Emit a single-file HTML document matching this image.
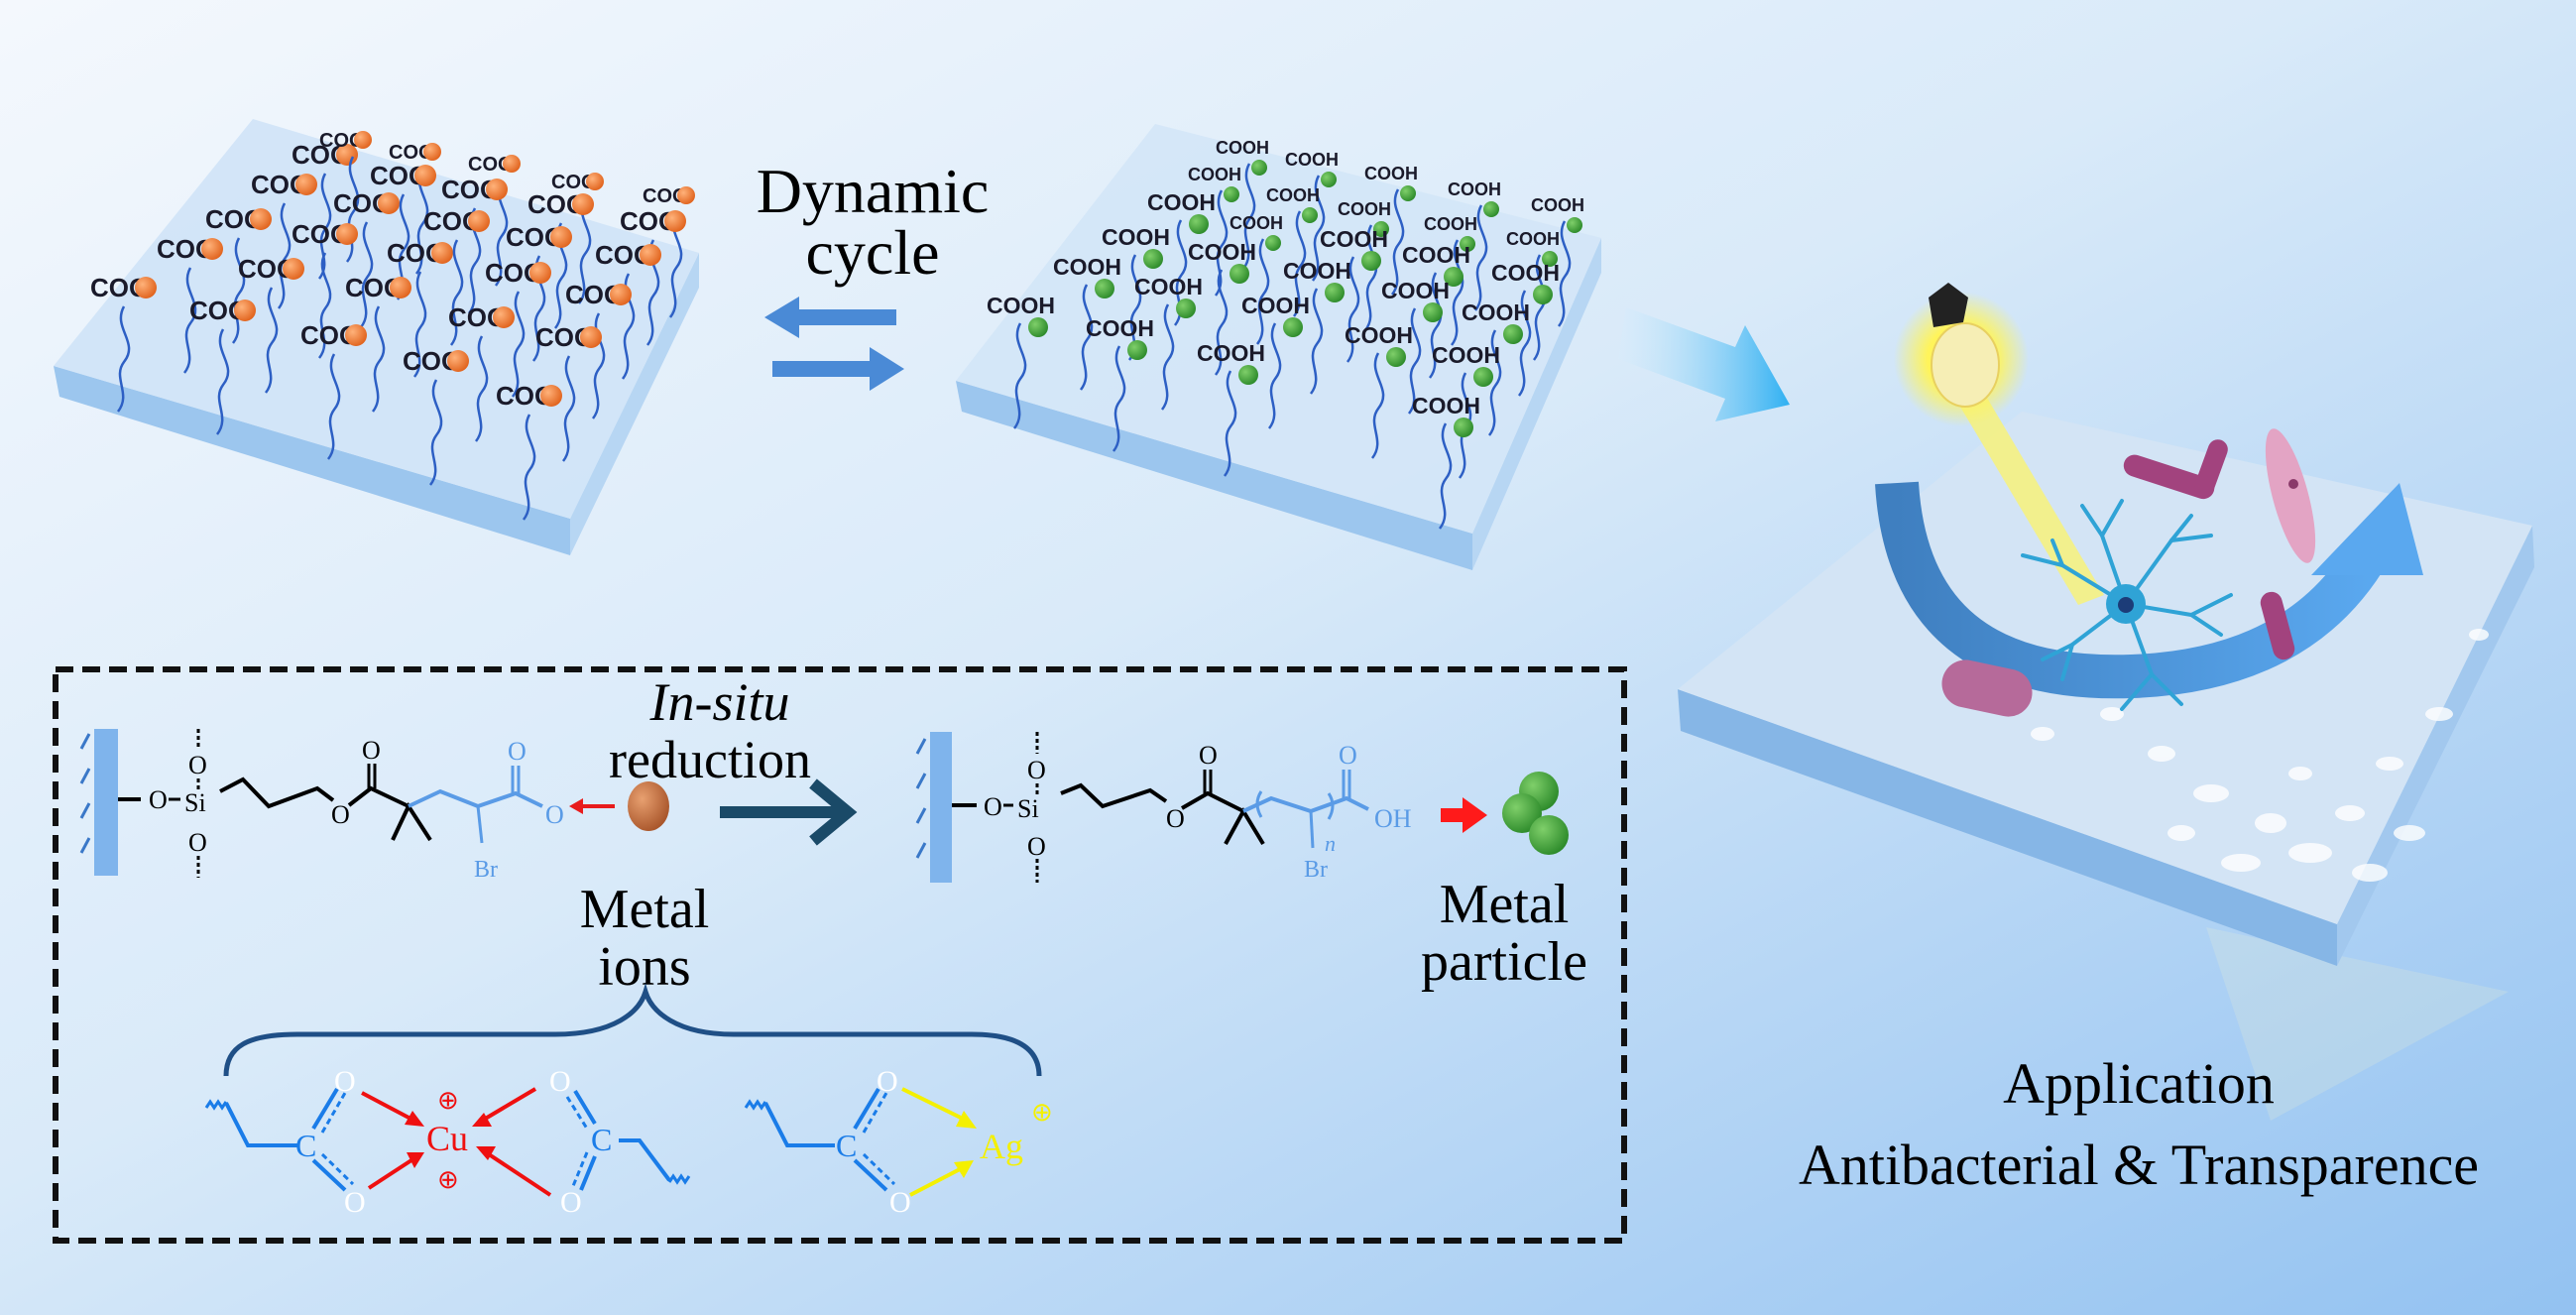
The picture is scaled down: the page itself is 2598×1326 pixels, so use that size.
<!DOCTYPE html>
<html><head><meta charset="utf-8"><style>
html,body{margin:0;padding:0;}
body{width:2598px;height:1326px;overflow:hidden;}
svg{display:block;}
.coo{font-family:"Liberation Sans",sans-serif;font-weight:bold;font-size:26px;fill:#1a1a2a;}
.cooh{font-family:"Liberation Sans",sans-serif;font-weight:bold;font-size:23px;fill:#1a1a2a;}
.t{font-family:"Liberation Serif",serif;}
</style></head><body>
<svg width="2598" height="1326" viewBox="0 0 2598 1326" xmlns="http://www.w3.org/2000/svg">
<defs>
<linearGradient id="bg" x1="0" y1="0" x2="1" y2="1">
<stop offset="0" stop-color="#f4f8fd"/><stop offset="0.45" stop-color="#d9eaf9"/><stop offset="1" stop-color="#93c2f1"/>
</linearGradient>
<linearGradient id="ga" x1="0" y1="0" x2="1" y2="0">
<stop offset="0" stop-color="#d8eefc" stop-opacity="0.2"/><stop offset="1" stop-color="#2fb0f2"/>
</linearGradient>
<linearGradient id="arc" x1="0" y1="0" x2="1" y2="0">
<stop offset="0" stop-color="#3f7fc0"/><stop offset="1" stop-color="#5aa8ef"/>
</linearGradient>
<radialGradient id="org" cx="0.35" cy="0.35" r="0.7"><stop offset="0" stop-color="#ffb27a"/><stop offset="1" stop-color="#e0621c"/></radialGradient>
<radialGradient id="grn" cx="0.35" cy="0.35" r="0.7"><stop offset="0" stop-color="#7fcf6a"/><stop offset="1" stop-color="#2c8a2a"/></radialGradient>
<radialGradient id="brn" cx="0.35" cy="0.35" r="0.7"><stop offset="0" stop-color="#e8a070"/><stop offset="1" stop-color="#a8552a"/></radialGradient>
<radialGradient id="glow" cx="0.5" cy="0.5" r="0.5"><stop offset="0.5" stop-color="#fff45a"/><stop offset="1" stop-color="#fff45a" stop-opacity="0"/></radialGradient>
<path id="ch" d="m 34 10 c -12 22 16 36 0 56 c -12 16 8 32 -6 50" fill="none" stroke="#2d5fc4" stroke-width="2.5"/>
<g id="a"><use href="#ch"/><text class="coo" x="0" y="0">COO</text><circle cx="56" cy="-9" r="11" fill="url(#org)"/></g>
<g id="b"><use href="#ch"/><text class="coo" x="0" y="0" style="font-size:20px">COO</text><circle cx="44" cy="-7" r="9" fill="url(#org)"/></g>
<g id="c"><use href="#ch"/><text class="cooh" x="0" y="0">COOH</text><circle cx="52" cy="14" r="10" fill="url(#grn)"/></g>
<g id="d"><use href="#ch"/><text class="cooh" x="0" y="0" style="font-size:18px">COOH</text><circle cx="44" cy="14" r="8" fill="url(#grn)"/></g>
</defs>
<rect width="2598" height="1326" fill="url(#bg)"/>

<!-- Slab 1 -->
<g>
<polygon points="54,369 575,523 575,560 60,400" fill="#9cc6ee"/>
<polygon points="575,523 705,255 705,290 575,560" fill="#b7d6f3"/>
<polygon points="54,369 255,120 705,255 575,523" fill="#cfe3f7" opacity="0.9"/>
</g>
<!-- Slab 2 -->
<g transform="translate(910,15)">
<polygon points="54,369 575,523 575,560 60,400" fill="#9cc6ee"/>
<polygon points="575,523 705,225 705,260 575,560" fill="#b7d6f3"/>
<polygon points="54,369 255,110 705,225 575,523" fill="#d3e5f7" opacity="0.9"/>
</g>

<!-- COO chains slab1 -->
<g>
<use href="#a" x="91" y="299"/><use href="#a" x="158" y="260"/><use href="#a" x="207" y="230"/>
<use href="#a" x="253" y="195"/><use href="#a" x="294" y="165"/>
<use href="#b" x="322" y="148"/><use href="#b" x="392" y="160"/><use href="#b" x="472" y="172"/>
<use href="#b" x="556" y="190"/><use href="#b" x="648" y="204"/>
<use href="#a" x="191" y="322"/><use href="#a" x="240" y="280"/><use href="#a" x="294" y="245"/>
<use href="#a" x="336" y="214"/><use href="#a" x="373" y="186"/><use href="#a" x="445" y="200"/>
<use href="#a" x="532" y="215"/><use href="#a" x="625" y="232"/>
<use href="#a" x="303" y="347"/><use href="#a" x="348" y="299"/><use href="#a" x="390" y="264"/>
<use href="#a" x="427" y="232"/><use href="#a" x="510" y="248"/><use href="#a" x="600" y="266"/>
<use href="#a" x="406" y="373"/><use href="#a" x="452" y="329"/><use href="#a" x="489" y="284"/>
<use href="#a" x="570" y="306"/><use href="#a" x="540" y="349"/><use href="#a" x="500" y="408"/>
</g>

<!-- COOH chains slab2 -->
<g transform="translate(904,17)">
<use href="#c" x="91" y="299"/><use href="#c" x="158" y="260"/><use href="#c" x="207" y="230"/>
<use href="#c" x="253" y="195"/><use href="#d" x="294" y="165"/>
<use href="#d" x="322" y="138"/><use href="#d" x="392" y="150"/><use href="#d" x="472" y="164"/>
<use href="#d" x="556" y="180"/><use href="#d" x="640" y="196"/>
<use href="#c" x="191" y="322"/><use href="#c" x="240" y="280"/><use href="#c" x="294" y="245"/>
<use href="#d" x="336" y="214"/><use href="#d" x="373" y="186"/><use href="#d" x="445" y="200"/>
<use href="#d" x="532" y="215"/><use href="#d" x="615" y="230"/>
<use href="#c" x="303" y="347"/><use href="#c" x="348" y="299"/><use href="#c" x="390" y="264"/>
<use href="#c" x="427" y="232"/><use href="#c" x="510" y="248"/><use href="#c" x="600" y="266"/>
<use href="#c" x="452" y="329"/><use href="#c" x="489" y="284"/><use href="#c" x="570" y="306"/>
<use href="#c" x="540" y="349"/><use href="#c" x="520" y="400"/>
</g>

<!-- Dynamic cycle -->
<text class="t" x="880" y="214" font-size="64" text-anchor="middle" fill="#000">Dynamic</text>
<text class="t" x="880" y="276" font-size="64" text-anchor="middle" fill="#000">cycle</text>
<polygon points="771,320 806,299 806,312 904,312 904,328 806,328 806,341" fill="#4a8ad6"/>
<polygon points="912,372 877,350 877,364 779,364 779,380 877,380 877,394" fill="#4a8ad6"/>

<!-- gradient arrow to right -->
<polygon points="1640,310 1750,350 1760,328 1805,408 1730,425 1740,402 1632,362" fill="url(#ga)"/>

<!-- Slab 3 -->
<polygon points="2225,935 2290,1130 2530,1000" fill="#eef2d8" opacity="0.22"/>
<polygon points="1692,695 2357,932 2357,974 1695,737" fill="#86b6e6"/>
<polygon points="2357,932 2554,530 2556,572 2357,974" fill="#a2c8ee"/>
<polygon points="1692,695 2039,415 2554,530 2357,932" fill="#d3e4f5"/>
<g fill="#ffffff" opacity="0.8">
<ellipse cx="2180" cy="760" rx="14" ry="8"/><ellipse cx="2230" cy="800" rx="18" ry="9"/><ellipse cx="2290" cy="830" rx="16" ry="10"/>
<ellipse cx="2330" cy="860" rx="22" ry="10"/><ellipse cx="2370" cy="820" rx="15" ry="8"/><ellipse cx="2410" cy="770" rx="14" ry="7"/>
<ellipse cx="2260" cy="870" rx="20" ry="9"/><ellipse cx="2390" cy="880" rx="18" ry="9"/><ellipse cx="2460" cy="720" rx="14" ry="7"/>
<ellipse cx="2130" cy="720" rx="12" ry="7"/><ellipse cx="2200" cy="840" rx="14" ry="8"/><ellipse cx="2320" cy="780" rx="12" ry="7"/>
<ellipse cx="2500" cy="640" rx="10" ry="6"/><ellipse cx="2060" cy="740" rx="12" ry="7"/><ellipse cx="2430" cy="840" rx="16" ry="8"/>
</g>

<!-- beam & bulb -->
<polygon points="1968,395 1995,386 2122,600 2096,610" fill="#f7f27a" opacity="0.85"/>
<circle cx="1978" cy="362" r="68" fill="url(#glow)"/>
<ellipse cx="1982" cy="368" rx="34" ry="42" fill="#f6eeb5" stroke="#e8d060" stroke-width="2"/>
<polygon points="1945,300 1965,285 1985,300 1980,325 1950,330" fill="#222"/>

<!-- arc arrow -->
<path d="M1913,487 Q1925,690 2150,682 Q2320,676 2390,555" fill="none" stroke="url(#arc)" stroke-width="44"/>
<polygon points="2420,487 2444,580 2331,580" fill="#5aa8ef"/>

<!-- neuron -->
<g stroke="#2fa3d6" stroke-width="4" fill="none" stroke-linecap="round">
<path d="M2144,609 L2080,570 L2040,560"/><path d="M2080,570 L2070,545"/>
<path d="M2144,609 L2120,540 L2100,510"/><path d="M2120,540 L2140,505"/>
<path d="M2144,609 L2190,545 L2210,520"/><path d="M2190,545 L2230,540"/>
<path d="M2144,609 L2210,620 L2250,600"/><path d="M2210,620 L2240,640"/>
<path d="M2144,609 L2170,680 L2200,710"/><path d="M2170,680 L2140,715"/>
<path d="M2144,609 L2090,650 L2060,665"/><path d="M2090,650 L2080,685"/>
</g>
<circle cx="2144" cy="609" r="20" fill="#2fa3d6"/>
<circle cx="2144" cy="610" r="8" fill="#1c3c78"/>

<!-- bacteria -->
<g fill="#a2437e">
<rect x="2140" y="470" width="95" height="22" rx="11" transform="rotate(18 2188 481)"/>
<rect x="2200" y="462" width="60" height="20" rx="10" transform="rotate(-70 2230 472)"/>
<rect x="2262" y="620" width="70" height="22" rx="11" transform="rotate(75 2297 631)"/>
<rect x="1958" y="670" width="92" height="48" rx="24" transform="rotate(12 2004 694)" fill="#b66a9a"/>
</g>
<ellipse cx="2310" cy="500" rx="18" ry="70" transform="rotate(-15 2310 500)" fill="#e3a4c4"/>
<circle cx="2313" cy="488" r="5" fill="#8a3a6a"/>

<text class="t" x="2157" y="1112" font-size="58" text-anchor="middle" fill="#000">Application</text>
<text class="t" x="2157" y="1194" font-size="58" text-anchor="middle" fill="#000">Antibacterial &amp; Transparence</text>

<!-- dashed box -->
<rect x="56" y="675" width="1582" height="576" fill="none" stroke="#111" stroke-width="6" stroke-dasharray="18,9"/>

<!-- molecule 1 -->
<g font-family="Liberation Serif,serif" font-size="26">
<rect x="95" y="735" width="24" height="148" fill="#7fb4ec"/>
<g stroke="#3a78c8" stroke-width="3">
<line x1="82" y1="755" x2="90" y2="740"/><line x1="82" y1="790" x2="90" y2="775"/><line x1="82" y1="825" x2="90" y2="810"/><line x1="82" y1="860" x2="90" y2="845"/>
</g>
<line x1="119" y1="806" x2="142" y2="806" stroke="#000" stroke-width="4"/>
<text x="150" y="815">O</text><line x1="170" y1="806" x2="182" y2="806" stroke="#000" stroke-width="3"/>
<text x="186" y="818">Si</text>
<line x1="200" y1="735" x2="200" y2="755" stroke="#000" stroke-width="3" stroke-dasharray="4,3"/>
<text x="190" y="780">O</text>
<line x1="200" y1="785" x2="200" y2="798" stroke="#000" stroke-width="3" stroke-dasharray="4,3"/>
<text x="190" y="858">O</text>
<line x1="200" y1="863" x2="200" y2="885" stroke="#000" stroke-width="3" stroke-dasharray="4,3"/>
<polyline points="222,798 245,786 271,813 320,795 336,807" fill="none" stroke="#000" stroke-width="4"/>
<text x="334" y="830">O</text>
<polyline points="352,812 374,795 412,813" fill="none" stroke="#000" stroke-width="4"/>
<line x1="372" y1="795" x2="372" y2="770" stroke="#000" stroke-width="3"/><line x1="378" y1="795" x2="378" y2="770" stroke="#000" stroke-width="3"/>
<text x="365" y="765">O</text>
<polyline points="396,847 412,813 434,847" fill="none" stroke="#000" stroke-width="4"/>
<polyline points="412,813 444,798 482,813 520,800 547,813" fill="none" stroke="#5a9be6" stroke-width="4"/>
<line x1="482" y1="813" x2="486" y2="850" stroke="#5a9be6" stroke-width="3"/>
<text x="478" y="884" fill="#5a9be6" font-size="24">Br</text>
<line x1="517" y1="800" x2="517" y2="772" stroke="#5a9be6" stroke-width="3"/><line x1="523" y1="800" x2="523" y2="772" stroke="#5a9be6" stroke-width="3"/>
<text x="512" y="766" fill="#5a9be6">O</text>
<text x="550" y="830" fill="#5a9be6">O</text>
<line x1="620" y1="813" x2="584" y2="813" stroke="#e81c1c" stroke-width="4"/><polygon points="574,813 588,805 588,821" fill="#e81c1c"/>
<ellipse cx="654" cy="813" rx="21" ry="25" fill="url(#brn)"/>
</g>
<text class="t" x="726" y="726" font-size="54" font-style="italic" text-anchor="middle">In-situ</text>
<text class="t" x="716" y="784" font-size="54" text-anchor="middle">reduction</text>
<line x1="726" y1="819" x2="850" y2="819" stroke="#1a4a68" stroke-width="12"/>
<polyline points="820,790 855,819 820,848" fill="none" stroke="#1a4a68" stroke-width="12"/>

<!-- molecule 2 -->
<g font-family="Liberation Serif,serif" font-size="26">
<rect x="938" y="738" width="22" height="152" fill="#7fb4ec"/>
<g stroke="#3a78c8" stroke-width="3">
<line x1="925" y1="760" x2="933" y2="745"/><line x1="925" y1="795" x2="933" y2="780"/><line x1="925" y1="830" x2="933" y2="815"/><line x1="925" y1="865" x2="933" y2="850"/>
</g>
<line x1="960" y1="812" x2="985" y2="812" stroke="#000" stroke-width="4"/>
<text x="992" y="822">O</text><line x1="1012" y1="812" x2="1022" y2="812" stroke="#000" stroke-width="3"/>
<text x="1026" y="824">Si</text>
<line x1="1046" y1="738" x2="1046" y2="760" stroke="#000" stroke-width="3" stroke-dasharray="4,3"/>
<text x="1036" y="785">O</text>
<line x1="1046" y1="790" x2="1046" y2="802" stroke="#000" stroke-width="3" stroke-dasharray="4,3"/>
<text x="1036" y="862">O</text>
<line x1="1046" y1="866" x2="1046" y2="890" stroke="#000" stroke-width="3" stroke-dasharray="4,3"/>
<polyline points="1070,800 1090,792 1112,813 1160,797 1176,808" fill="none" stroke="#000" stroke-width="4"/>
<text x="1176" y="834">O</text>
<polyline points="1192,815 1218,800 1254,818" fill="none" stroke="#000" stroke-width="4"/>
<line x1="1215" y1="800" x2="1215" y2="776" stroke="#000" stroke-width="3"/><line x1="1221" y1="800" x2="1221" y2="776" stroke="#000" stroke-width="3"/>
<text x="1209" y="770">O</text>
<polyline points="1236,851 1254,818 1274,851" fill="none" stroke="#000" stroke-width="4"/>
<polyline points="1254,818 1282,805 1322,818 1358,805 1380,816" fill="none" stroke="#5a9be6" stroke-width="4"/>
<path d="M1272,798 q-8,12 0,26" fill="none" stroke="#5a9be6" stroke-width="3"/>
<path d="M1340,800 q8,12 0,26" fill="none" stroke="#5a9be6" stroke-width="3"/>
<line x1="1322" y1="818" x2="1324" y2="855" stroke="#5a9be6" stroke-width="3"/>
<text x="1336" y="858" fill="#5a9be6" font-size="22" font-style="italic">n</text>
<text x="1315" y="884" fill="#5a9be6" font-size="24">Br</text>
<line x1="1355" y1="805" x2="1355" y2="776" stroke="#5a9be6" stroke-width="3"/><line x1="1361" y1="805" x2="1361" y2="776" stroke="#5a9be6" stroke-width="3"/>
<text x="1350" y="770" fill="#5a9be6">O</text>
<text x="1386" y="834" fill="#5a9be6">OH</text>
<polygon points="1453,815 1475,815 1475,804 1500,822 1475,840 1475,829 1453,829" fill="#ff1a1a"/>
<circle cx="1552" cy="798" r="20" fill="url(#grn)"/>
<circle cx="1535" cy="820" r="20" fill="url(#grn)"/>
<circle cx="1562" cy="842" r="20" fill="url(#grn)"/>
</g>

<text class="t" x="650" y="935" font-size="56" text-anchor="middle">Metal</text>
<text class="t" x="650" y="993" font-size="56" text-anchor="middle">ions</text>
<text class="t" x="1517" y="930" font-size="56" text-anchor="middle">Metal</text>
<text class="t" x="1517" y="988" font-size="56" text-anchor="middle">particle</text>

<!-- brace -->
<path d="M228,1085 C228,1055 250,1043 300,1043 L560,1043 C620,1043 645,1020 651,1000 C657,1020 682,1043 740,1043 L980,1043 C1030,1043 1048,1060 1048,1085" fill="none" stroke="#1f4f86" stroke-width="5"/>

<!-- Cu complex -->
<g font-family="Liberation Serif,serif">
<path d="M208,1117 l4,-6 l4,6 l4,-6 l4,6 l4,-6" fill="none" stroke="#1a7ce8" stroke-width="3"/>
<polyline points="228,1112 250,1155 300,1155" fill="none" stroke="#1a7ce8" stroke-width="4"/>
<text x="298" y="1166" font-size="32" fill="#1a7ce8">C</text>
<line x1="316" y1="1138" x2="340" y2="1098" stroke="#1a7ce8" stroke-width="4"/><line x1="325" y1="1142" x2="348" y2="1102" stroke="#1a7ce8" stroke-width="3" stroke-dasharray="6,4"/>
<line x1="316" y1="1170" x2="348" y2="1200" stroke="#1a7ce8" stroke-width="4"/><line x1="325" y1="1164" x2="356" y2="1194" stroke="#1a7ce8" stroke-width="3" stroke-dasharray="6,4"/>
<text x="337" y="1100" font-size="30" fill="#fff">O</text>
<text x="347" y="1222" font-size="30" fill="#fff">O</text>
<text x="430" y="1160" font-size="36" fill="#ef1010">Cu</text>
<text x="441" y="1118" font-size="26" fill="#ef1010">⊕</text>
<text x="441" y="1198" font-size="26" fill="#ef1010">⊕</text>
<g stroke="#ef1010" stroke-width="4">
<line x1="365" y1="1102" x2="418" y2="1130"/><line x1="540" y1="1098" x2="486" y2="1130"/>
<line x1="372" y1="1198" x2="418" y2="1168"/><line x1="555" y1="1205" x2="490" y2="1162"/>
</g>
<g fill="#ef1010">
<polygon points="428,1136 408,1134 416,1120"/><polygon points="476,1136 488,1122 496,1136"/>
<polygon points="428,1162 418,1178 410,1162"/><polygon points="480,1156 500,1156 492,1170"/>
</g>
<text x="554" y="1100" font-size="30" fill="#fff">O</text>
<text x="565" y="1222" font-size="30" fill="#fff">O</text>
<text x="596" y="1160" font-size="32" fill="#1a7ce8">C</text>
<line x1="580" y1="1100" x2="600" y2="1133" stroke="#1a7ce8" stroke-width="4"/><line x1="572" y1="1106" x2="592" y2="1138" stroke="#1a7ce8" stroke-width="3" stroke-dasharray="6,4"/>
<line x1="600" y1="1166" x2="586" y2="1200" stroke="#1a7ce8" stroke-width="4"/><line x1="592" y1="1162" x2="578" y2="1196" stroke="#1a7ce8" stroke-width="3" stroke-dasharray="6,4"/>
<polyline points="624,1150 645,1150 675,1190" fill="none" stroke="#1a7ce8" stroke-width="4"/>
<path d="M675,1192 l4,-6 l4,6 l4,-6 l4,6 l4,-6" fill="none" stroke="#1a7ce8" stroke-width="3"/>

<!-- Ag complex -->
<path d="M752,1117 l4,-6 l4,6 l4,-6 l4,6 l4,-6" fill="none" stroke="#1a7ce8" stroke-width="3"/>
<polyline points="772,1112 794,1155 842,1155" fill="none" stroke="#1a7ce8" stroke-width="4"/>
<text x="843" y="1166" font-size="32" fill="#1a7ce8">C</text>
<line x1="862" y1="1138" x2="886" y2="1098" stroke="#1a7ce8" stroke-width="4"/><line x1="871" y1="1142" x2="894" y2="1102" stroke="#1a7ce8" stroke-width="3" stroke-dasharray="6,4"/>
<line x1="862" y1="1170" x2="894" y2="1200" stroke="#1a7ce8" stroke-width="4"/><line x1="871" y1="1164" x2="902" y2="1194" stroke="#1a7ce8" stroke-width="3" stroke-dasharray="6,4"/>
<text x="884" y="1100" font-size="30" fill="#fff">O</text>
<text x="897" y="1222" font-size="30" fill="#fff">O</text>
<text x="988" y="1168" font-size="36" fill="#f4f000">Ag</text>
<text x="1040" y="1130" font-size="26" fill="#f4f000">⊕</text>
<line x1="910" y1="1098" x2="975" y2="1130" stroke="#f4f000" stroke-width="4"/>
<polygon points="985,1138 964,1136 972,1120" fill="#f4f000"/>
<line x1="918" y1="1205" x2="970" y2="1178" stroke="#f4f000" stroke-width="4"/>
<polygon points="982,1170 972,1188 962,1172" fill="#f4f000"/>
</g>
</svg>
</body></html>
